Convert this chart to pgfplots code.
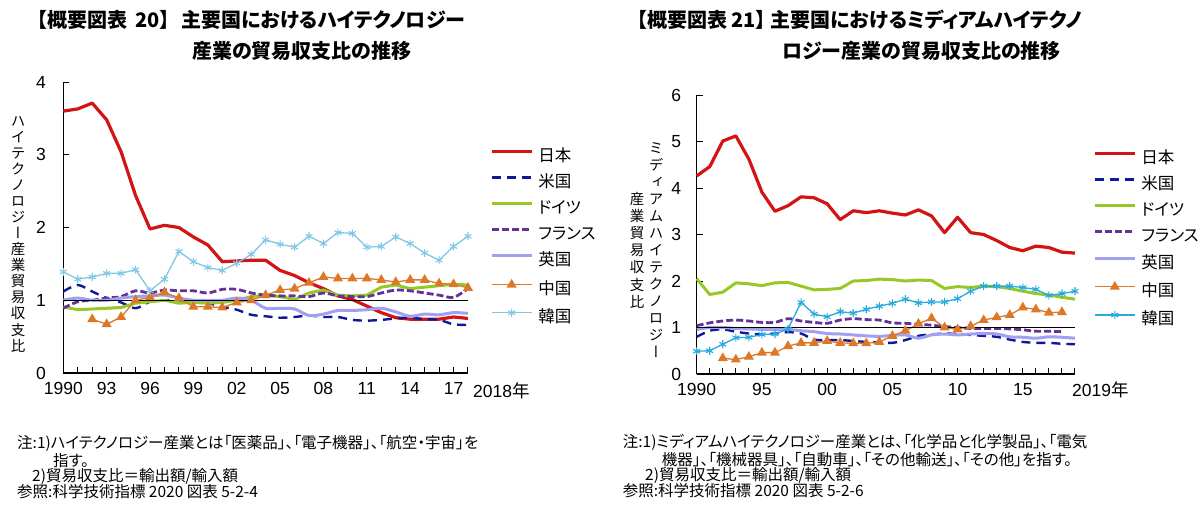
\documentclass[border=0pt]{standalone}
\usepackage{fontspec}
\setmainfont{Liberation Sans}
\newfontfamily\jp[RawFeature=+palt]{Noto Sans CJK JP}
\newfontfamily\jpv[RawFeature=+vert]{Noto Sans CJK JP}
\usepackage{graphicx}
\usepackage{pgfplots}
\usepackage{pgfplotstable}
\pgfplotsset{compat=1.18}

\definecolor{cJP}{RGB}{210,20,20}
\definecolor{cUS}{RGB}{15,25,150}
\definecolor{cDE}{RGB}{150,200,40}
\definecolor{cFR}{RGB}{100,50,150}
\definecolor{cUK}{RGB}{160,160,240}
\definecolor{cCN}{RGB}{220,120,40}
\definecolor{cKR}{RGB}{130,200,230}
\definecolor{cKRb}{RGB}{40,170,220}

\pgfplotstableread{
year JP US DE FR UK CN KR
1990 3.60 1.12 0.91 0.89 1.00 nan 1.39
1991 3.63 1.21 0.87 0.98 1.03 nan 1.29
1992 3.71 1.12 0.88 1.00 1.00 0.74 1.32
1993 3.48 1.03 0.89 1.03 1.00 0.67 1.37
1994 3.04 0.97 0.90 1.05 1.03 0.77 1.37
1995 2.44 0.89 0.96 1.13 1.05 1.00 1.42
1996 1.98 0.98 0.98 1.10 1.06 1.04 1.13
1997 2.03 1.00 1.00 1.14 1.07 1.11 1.29
1998 2.00 1.00 0.96 1.13 1.03 1.03 1.67
1999 1.87 0.98 0.97 1.13 1.00 0.91 1.53
2000 1.76 0.96 0.96 1.10 1.00 0.91 1.45
2001 1.53 0.91 0.97 1.15 1.00 0.90 1.41
2002 1.54 0.87 1.00 1.15 1.03 0.97 1.51
2003 1.55 0.80 1.05 1.10 1.00 1.00 1.63
2004 1.55 0.78 1.07 1.07 0.89 1.07 1.83
2005 1.41 0.76 1.05 1.06 0.89 1.14 1.77
2006 1.34 0.77 1.01 1.06 0.88 1.16 1.73
2007 1.24 0.79 1.10 1.05 0.79 1.24 1.88
2008 1.16 0.77 1.14 1.10 0.81 1.32 1.78
2009 1.06 0.77 1.07 1.06 0.86 1.30 1.93
2010 1.01 0.73 1.06 1.05 0.86 1.30 1.92
2011 0.92 0.72 1.07 1.05 0.87 1.30 1.73
2012 0.83 0.73 1.18 1.10 0.89 1.28 1.74
2013 0.76 0.75 1.21 1.14 0.84 1.25 1.87
2014 0.74 0.76 1.16 1.13 0.78 1.28 1.78
2015 0.74 0.74 1.18 1.10 0.81 1.28 1.65
2016 0.74 0.73 1.20 1.07 0.80 1.23 1.55
2017 0.77 0.67 1.22 1.04 0.83 1.22 1.74
2018 0.75 0.66 1.21 1.16 0.82 1.17 1.88
}\tabL

\pgfplotstableread{
year JP US DE FR UK CN KR
1990 4.26 0.80 2.05 1.04 0.96 nan 0.49
1991 4.46 0.93 1.71 1.10 1.00 nan 0.50
1992 5.01 0.96 1.76 1.14 1.00 0.34 0.64
1993 5.12 0.91 1.96 1.16 0.98 0.31 0.78
1994 4.62 0.87 1.94 1.14 0.97 0.37 0.79
1995 3.91 0.85 1.90 1.11 0.96 0.46 0.85
1996 3.50 0.87 1.96 1.11 0.96 0.46 0.86
1997 3.62 0.90 1.97 1.19 0.96 0.60 0.97
1998 3.81 0.87 1.89 1.14 0.93 0.67 1.54
1999 3.79 0.74 1.81 1.11 0.91 0.67 1.29
2000 3.66 0.73 1.82 1.09 0.87 0.71 1.23
2001 3.32 0.73 1.84 1.16 0.86 0.67 1.34
2002 3.51 0.71 2.00 1.19 0.84 0.66 1.31
2003 3.47 0.69 2.01 1.17 0.82 0.66 1.39
2004 3.51 0.68 2.04 1.16 0.81 0.69 1.46
2005 3.46 0.67 2.03 1.10 0.83 0.82 1.52
2006 3.42 0.73 2.00 1.09 0.84 0.93 1.61
2007 3.53 0.82 2.02 1.07 0.77 1.08 1.53
2008 3.40 0.85 2.01 1.05 0.84 1.20 1.55
2009 3.04 0.87 1.84 1.02 0.86 1.00 1.55
2010 3.37 0.86 1.88 1.00 0.84 0.96 1.62
2011 3.04 0.84 1.86 0.98 0.86 1.03 1.78
2012 3.00 0.82 1.89 0.98 0.87 1.16 1.89
2013 2.87 0.80 1.88 0.98 0.86 1.22 1.89
2014 2.72 0.74 1.84 0.97 0.80 1.27 1.89
2015 2.65 0.69 1.78 0.95 0.79 1.43 1.86
2016 2.75 0.67 1.73 0.92 0.77 1.39 1.82
2017 2.72 0.67 1.70 0.92 0.80 1.32 1.69
2018 2.62 0.65 1.65 0.91 0.79 1.33 1.73
2019 2.60 0.64 1.61 nan 0.77 nan 1.78
}\tabR

\pgfplotsset{
  common/.style={
    scale only axis, clip=false,
    axis lines=left, axis line style={-, line width=1.2pt, black},
    tick align=inside, major tick length=6pt, minor tick length=6pt,
    every tick/.style={black, line width=1pt},
    tick label style={font=\fontsize{17.5}{17.5}\selectfont},
    /pgf/number format/assume math mode=true,
    xticklabel style={yshift=-6pt},
    legend style={draw=none, fill=none, inner sep=0pt, column sep=5pt,
      font=\jp\fontsize{16.5}{16.5}\selectfont,
      nodes={inner sep=0pt, text height=12pt, text depth=3pt},
      row sep=11.2pt, anchor=north west},
    legend cell align=left,
    legend image code/.code={\draw[mark repeat=2,mark phase=2,#1] plot coordinates {(0pt,5.5pt) (20pt,5.5pt) (40pt,5.5pt)};},
  },
  sJP/.style={color=cJP, line width=3.2pt, line join=round},
  sUS/.style={color=cUS, line width=2.4pt, dash pattern=on 9pt off 6pt, smooth},
  sDE/.style={color=cDE, line width=3pt, line join=round},
  sFR/.style={color=cFR, line width=2.8pt, dash pattern=on 7pt off 3pt, smooth},
  sUK/.style={color=cUK, line width=3pt, smooth},
  sCN/.style={color=cCN, line width=1.3pt, mark=triangle*, mark size=4.5pt, mark options={solid, fill=cCN}},
}

\begin{document}
\begin{tikzpicture}
\path[use as bounding box] (0,0) rectangle (1200pt,-512pt);

% Titles
\node[anchor=west, inner sep=0, font=\jp\bfseries\fontsize{20}{20}\selectfont] at (37pt,-20pt) {【概要図表\hspace{0.4em}20】\hspace{0.6em}主要国におけるハイテクノロジー};
\node[anchor=west, inner sep=0, font=\jp\bfseries\fontsize{20}{20}\selectfont] at (192pt,-51pt) {産業の貿易収支比の推移};
\node[anchor=west, inner sep=0, font=\jp\bfseries\fontsize{20}{20}\selectfont] at (637pt,-20pt) {【概要図表 21】 主要国におけるミディアムハイテクノ};
\node[anchor=west, inner sep=0, font=\jp\bfseries\fontsize{20}{20}\selectfont] at (782pt,-51pt) {ロジー産業の貿易収支比の推移};

% vertical y labels
\node[inner sep=0, align=center, font=\jpv\fontsize{14.5}{16.07}\selectfont] at (18pt,-234pt) {ハ\\イ\\テ\\ク\\ノ\\ロ\\ジ\\ー\\産\\業\\貿\\易\\収\\支\\比};
\node[inner sep=0, align=center, font=\jpv\fontsize{14.5}{17}\selectfont] at (656pt,-250pt) {ミ\\デ\\ィ\\ア\\ム\\ハ\\イ\\テ\\ク\\ノ\\ロ\\ジ\\ー};
\node[inner sep=0, align=center, font=\jpv\fontsize{14.5}{17.2}\selectfont] at (637pt,-250pt) {産\\業\\貿\\易\\収\\支\\比};

% Left chart
\begin{axis}[common,
  at={(63.3pt,-373pt)}, anchor=south west, width=404.7pt, height=291pt,
  xmin=1990, xmax=2018, ymin=0, ymax=4,
  xtick={1990,1993,...,2017}, xticklabels={1990,93,96,99,02,05,08,11,14,17},
  minor xtick={1990,...,2018}, ytick={0,1,2,3,4},
  yticklabel style={xshift=-14pt},
  legend style={at={(axis description cs:1.054,0.770)}},
]
\addplot[sJP] table[x=year,y=JP]{\tabL};
\addplot[sUS] table[x=year,y=US]{\tabL};
\addplot[sDE] table[x=year,y=DE]{\tabL};
\addplot[sFR] table[x=year,y=FR]{\tabL};
\addplot[sUK] table[x=year,y=UK]{\tabL};
\addplot[sCN] table[x=year,y=CN]{\tabL};
\addplot[color=cKR, line width=1.3pt, mark=asterisk, mark size=4pt, mark options={solid, line width=1.1pt}] table[x=year,y=KR]{\tabL};
\addplot[black, line width=1.5pt, forget plot] coordinates {(1990,1) (2018,1)};
\legend{日本,米国,ドイツ,フランス,英国,中国,韓国}
\node[anchor=base west, inner sep=0, font=\fontsize{17.5}{17.5}\selectfont] at (axis cs:2018,0) [xshift=5pt, yshift=-24pt] {2018{\jp 年}};
\end{axis}

% Right chart
\begin{axis}[common,
  at={(696.7pt,-374pt)}, anchor=south west, width=378.3pt, height=279pt,
  xmin=1990, xmax=2019, ymin=0, ymax=6,
  xtick={1990,1995,...,2015}, xticklabels={1990,95,00,05,10,15},
  minor xtick={1990,...,2019}, ytick={0,1,2,3,4,5,6},
  yticklabel style={xshift=-12pt},
  legend style={at={(axis description cs:1.0476,0.799)}},
]
\addplot[sJP] table[x=year,y=JP]{\tabR};
\addplot[sUS] table[x=year,y=US]{\tabR};
\addplot[sDE] table[x=year,y=DE]{\tabR};
\addplot[sFR] table[x=year,y=FR]{\tabR};
\addplot[sUK] table[x=year,y=UK]{\tabR};
\addplot[sCN] table[x=year,y=CN]{\tabR};
\addplot[color=cKRb, line width=1.3pt, mark=asterisk, mark size=4pt, mark options={solid, line width=1.1pt}] table[x=year,y=KR]{\tabR};
\addplot[black, line width=1.5pt, forget plot] coordinates {(1990,1) (2019,1)};
\legend{日本,米国,ドイツ,フランス,英国,中国,韓国}
\node[anchor=base west, inner sep=0, font=\fontsize{17.5}{17.5}\selectfont] at (axis cs:2019,0) [xshift=-3pt, yshift=-22pt] {2019{\jp 年}};
\end{axis}

% Notes
\begin{scope}[every node/.style={anchor=west, inner sep=0, font=\jp\fontsize{15.5}{15.5}\selectfont}]
\node at (17pt,-443.7pt) {注:1)ハイテクノロジー産業とは「医薬品」、「電子機器」、「航空・宇宙」を};
\node at (53pt,-460.7pt) {指す。};
\node at (32pt,-476.7pt) {2)貿易収支比＝輸出額/輸入額};
\node at (17pt,-492pt) {参照:科学技術指標 2020 図表 5-2-4};
\node at (622.7pt,-442pt) {注:1)ミディアムハイテクノロジー産業とは、「化学品と化学製品」、「電気};
\node at (661.7pt,-460pt) {機器」、「機械器具」、「自動車」、「その他輸送」、「その他」を指す。};
\node at (645pt,-475pt) {2)貿易収支比＝輸出額/輸入額};
\node at (622.7pt,-491pt) {参照:科学技術指標 2020 図表 5-2-6};
\end{scope}
\end{tikzpicture}
\end{document}
